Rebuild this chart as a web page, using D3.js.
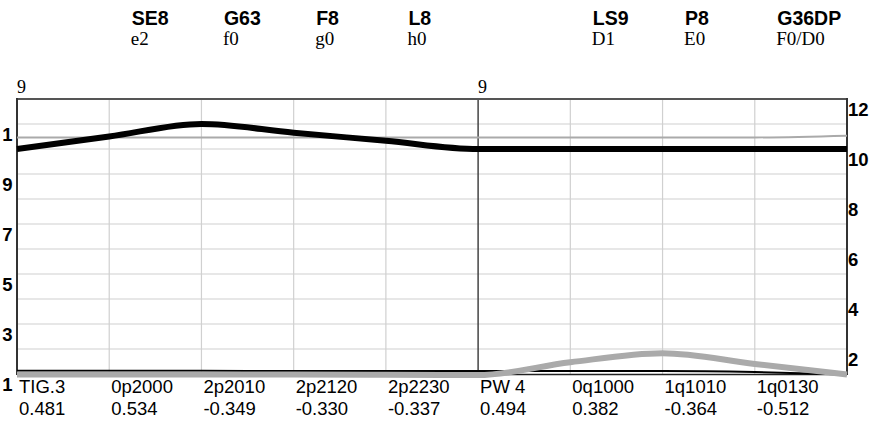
<!DOCTYPE html>
<html><head><meta charset="utf-8">
<script src="https://cdn.jsdelivr.net/npm/d3@7"></script>
<style>
html,body{margin:0;padding:0;background:#fff;}
svg{display:block;}
</style></head>
<body>
<script>
// ---- data ----
const xLabels = ["TIG.3","0p2000","2p2010","2p2120","2p2230","PW 4","0q1000","1q1010","1q0130"];
const xValues = ["0.481","0.534","-0.349","-0.330","-0.337","0.494","0.382","-0.364","-0.512"];
const headerCodes = ["SE8","G63","F8","L8","LS9","P8","G36DP"];
const headerSubs = ["e2","f0","g0","h0","D1","E0","F0/D0"];
const headerPos = [1,2,3,4,6,7,8];
const markerPos = [0,5];
const markerText = ["9","9"];
const dividerPos = [5];
const leftTicks = [1,3,5,7,9,11];
const leftTickLabels = ["1","3","5","7","9","1"];
const rightTicks = [2,4,6,8,10,12];
const pointIdx = [0,1,2,3,4,5,6,7,8,9];
const blackThick = [10.0,10.5,11.0,10.65,10.33,10.0,10.0,10.0,10.0,10.0];
const grayThin = [10.46,10.46,10.46,10.46,10.46,10.46,10.46,10.46,10.46,10.53];
const blackThin = [1.13,1.13,1.13,1.12,1.12,1.12,1.12,1.12,1.08,0.98];
const grayThick = [0.98,0.98,0.98,0.98,0.97,0.96,1.47,1.83,1.40,0.98];

const W = 875, H = 424;
const svg = d3.select("body").append("svg").attr("width", W).attr("height", H);

const x = d3.scaleLinear().domain([0,9]).range([17,847]);
const y = d3.scaleLinear().domain([1,12]).range([374,99]);

const sans = "'Liberation Sans', Arial, sans-serif";
const serif = "'Liberation Serif', 'Times New Roman', serif";

// grid
const g = svg.append("g");
g.selectAll("line.h").data(d3.range(2,12)).join("line")
  .attr("x1", x(0)).attr("x2", x(9))
  .attr("y1", d => y(d)).attr("y2", d => y(d))
  .attr("stroke", "#d0d0d0").attr("stroke-width", 1.2);
g.selectAll("line.v").data(d3.range(1,9).filter(d => !dividerPos.includes(d))).join("line")
  .attr("x1", d => x(d)).attr("x2", d => x(d))
  .attr("y1", y(12)).attr("y2", y(1))
  .attr("stroke", "#d0d0d0").attr("stroke-width", 1.2);
g.selectAll("line.div").data(dividerPos).join("line")
  .attr("x1", d => x(d)).attr("x2", d => x(d))
  .attr("y1", y(12)).attr("y2", y(1))
  .attr("stroke", "#444").attr("stroke-width", 1.5);

// border
svg.append("line").attr("x1", x(0)).attr("x2", x(9)).attr("y1", y(12)).attr("y2", y(12))
  .attr("stroke", "#555").attr("stroke-width", 2);
svg.append("line").attr("x1", x(0)).attr("x2", x(9)).attr("y1", y(1)+0.5).attr("y2", y(1)+0.5)
  .attr("stroke", "#222").attr("stroke-width", 1.5);
svg.append("line").attr("x1", x(0)).attr("x2", x(0)).attr("y1", y(12)-1).attr("y2", y(1)+1)
  .attr("stroke", "#333").attr("stroke-width", 2);
svg.append("line").attr("x1", x(9)).attr("x2", x(9)).attr("y1", y(12)-1).attr("y2", y(1)+1)
  .attr("stroke", "#333").attr("stroke-width", 2);

// lines
const line = vals => d3.line().x(i => x(i)).y(i => y(vals[i])).curve(d3.curveMonotoneX)(pointIdx);
svg.append("path").attr("d", line(grayThin)).attr("fill","none").attr("stroke","#aaaaaa").attr("stroke-width",1.8);
svg.append("path").attr("d", line(blackThick)).attr("fill","none").attr("stroke","#000").attr("stroke-width",6);
svg.append("path").attr("d", line(blackThin)).attr("fill","none").attr("stroke","#000").attr("stroke-width",2);
svg.append("path").attr("d", line(grayThick)).attr("fill","none").attr("stroke","#aaaaaa").attr("stroke-width",6);

// axes
const leftAxis = d3.axisLeft(y).tickValues(leftTicks).tickSize(0).tickPadding(0)
  .tickFormat((d,i) => leftTickLabels[i]);
const la = svg.append("g").attr("transform", `translate(12.5,0)`).call(leftAxis);
la.select(".domain").remove();
la.selectAll("text").attr("font-family", sans).attr("font-weight","bold").attr("font-size","18.5px")
  .attr("fill","#000").attr("text-anchor","end").attr("dy", null).attr("dominant-baseline","hanging")
  .attr("y", 2.5);

const rightAxis = d3.axisRight(y).tickValues(rightTicks).tickSize(0).tickPadding(0);
const ra = svg.append("g").attr("transform", `translate(848,0)`).call(rightAxis);
ra.select(".domain").remove();
ra.selectAll("text").attr("font-family", sans).attr("font-weight","bold").attr("font-size","18.5px")
  .attr("fill","#000").attr("text-anchor","start").attr("dy", null).attr("dominant-baseline","hanging")
  .attr("y", 2.5).attr("x", 0);

// bottom labels
svg.selectAll("text.xl").data(xLabels).join("text")
  .attr("x", (d,i) => x(i) + 2).attr("y", 393)
  .attr("font-family", sans).attr("font-size","18.5px").attr("fill","#000")
  .text(d => d);
svg.selectAll("text.xv").data(xValues).join("text")
  .attr("x", (d,i) => x(i) + 2).attr("y", 415)
  .attr("font-family", sans).attr("font-size","18.5px").attr("fill","#000")
  .text(d => d);

// header
svg.selectAll("text.hc").data(headerCodes).join("text")
  .attr("x", (d,i) => x(headerPos[i]) + 22.5).attr("y", 25)
  .attr("font-family", sans).attr("font-weight","bold").attr("font-size","19.5px").attr("fill","#000")
  .text(d => d);
svg.selectAll("text.hs").data(headerSubs).join("text")
  .attr("x", (d,i) => x(headerPos[i]) + 21.5).attr("y", 45)
  .attr("font-family", serif).attr("font-size","19px").attr("fill","#000")
  .text(d => d);

// markers
svg.selectAll("text.mk").data(markerText).join("text")
  .attr("x", (d,i) => x(markerPos[i])).attr("y", 93)
  .attr("font-family", serif).attr("font-size","18px").attr("fill","#000")
  .text(d => d);
</script>
</body></html>
